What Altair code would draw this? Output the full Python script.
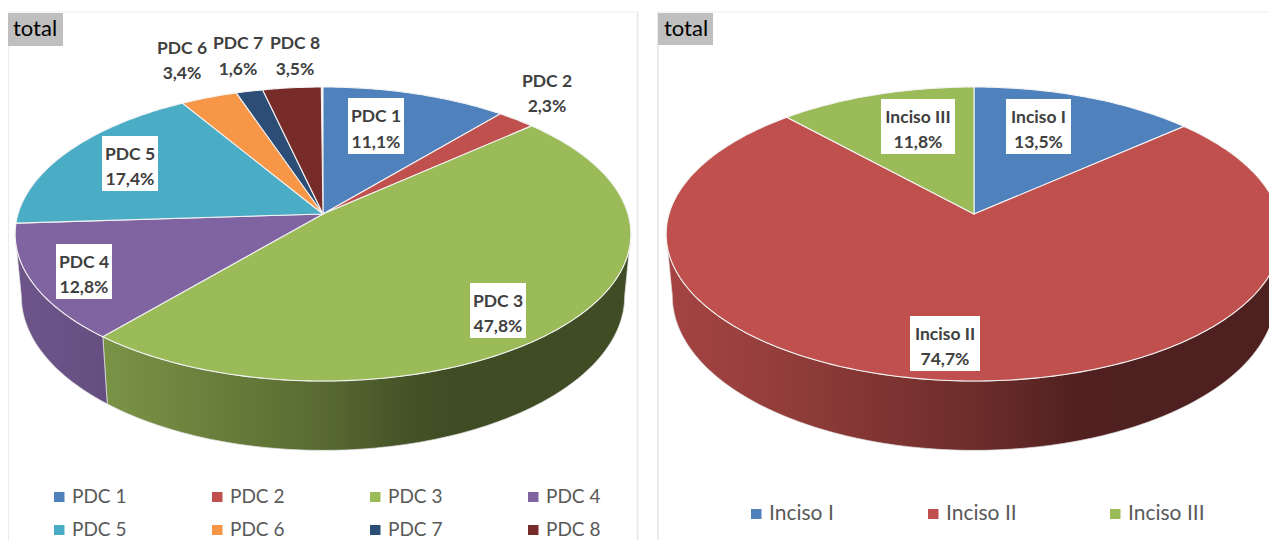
import math
import altair as alt

# ---- values ----
pdc_names = ["PDC 1", "PDC 2", "PDC 3", "PDC 4", "PDC 5", "PDC 6", "PDC 7", "PDC 8"]
pdc_shares = [11.1, 2.3, 47.8, 12.8, 17.4, 3.4, 1.6, 3.5]
pdc_colors = ["#4f81bd", "#c0504d", "#9bbb59", "#8064a2", "#4bacc6", "#f79646", "#2c4d75", "#772c2a"]
inc_names = ["Inciso I", "Inciso II", "Inciso III"]
inc_shares = [13.5, 74.7, 11.8]
inc_colors = ["#4f81bd", "#c0504d", "#9bbb59"]

# label centres and white boxes (image pixels)
pdc_label_x = [376, 547, 498, 84, 130, 182, 238, 295]
pdc_line1_y = [115, 80, 300, 261, 153, 47, 42, 42]
pdc_line2_y = [141, 105, 325, 286, 178, 72, 68, 68]
pdc_box_w = [56, 0, 56, 56, 56, 0, 0, 0]
inc_label_x = [1038.5, 945, 918]
inc_line1_y = [116, 333, 116]
inc_line2_y = [141, 358, 141]
inc_box_w = [65, 70, 74]

pdc_legend_sq_x = [54, 212, 370, 528, 54, 212, 370, 528]
pdc_legend_y = [497, 497, 497, 497, 530, 530, 530, 530]
inc_legend_sq_x = [751, 928, 1110]
inc_legend_y = [514, 514, 514]

# ---- pie geometry: a disc seen in perspective ----
W, H = 1261, 532
OFF = 8
HUB_Y = 214
K = 0.136
RX, RY = 305.0, 144.3
LOW_SX, LOW_SY, LOW_DY = 0.98, 1.05, 61.0
TANGENT = math.degrees(math.acos(-K))  # angle of the widest point on the right


def top_pt(cx, deg):
    a = math.radians(deg)
    w = 1 + K * math.cos(a)
    return cx + RX * math.sin(a) / w, HUB_Y - RY * math.cos(a) / w


def low_pt(cx, deg):
    x, y = top_pt(cx, deg)
    return cx + LOW_SX * (x - cx), HUB_Y + LOW_DY + LOW_SY * (y - HUB_Y)


def arc_degs(a, b):
    n = max(2, int((b - a) / 1.0))
    return [a + (b - a) * i / n for i in range(n + 1)]


def feature(ring):
    ring = [[round(x, 2), round(y, 2)] for x, y in ring]
    ring.append(ring[0])
    return {"type": "Feature", "properties": {}, "geometry": {"type": "Polygon", "coordinates": [ring]}}


def hexmul(col, f):
    r, g, b = int(col[1:3], 16), int(col[3:5], 16), int(col[5:7], 16)
    return "#%02x%02x%02x" % (int(r * f), int(g * f), int(b * f))


SHADE = [(0.0, 0.86), (0.15, 0.79), (0.5, 0.57), (0.68, 0.41), (1.0, 0.41)]


def shade(t):
    t = min(1, max(0, t))
    for (t0, f0), (t1, f1) in zip(SHADE, SHADE[1:]):
        if t <= t1:
            return f0 + (f1 - f0) * (t - t0) / (t1 - t0)
    return SHADE[-1][1]


PROJ = dict(type="identity", scale=1, translate=[-OFF, -OFF])


def pie_layers(cx, shares, colors):
    walls, tops = [], []
    start = 0.0
    for share, col in zip(shares, colors):
        end = start + share * 3.6
        # front wall
        a, b = max(start, TANGENT), min(end, 360 - TANGENT)
        if b > a:
            degs = arc_degs(a, b)
            ring = [top_pt(cx, d) for d in degs] + [low_pt(cx, d) for d in reversed(degs)]
            xs = [p[0] for p in ring]
            x0, x1 = min(xs), max(xs)
            offsets = [i / 12 for i in range(13)]
            stops = [
                alt.GradientStop(
                    offset=o,
                    color=hexmul(col, shade((x0 + (x1 - x0) * o - (cx - 308)) / 616)),
                )
                for o in offsets
            ]
            grad = alt.LinearGradient(gradient="linear", stops=stops, x1=0, x2=1, y1=0, y2=0)
            walls.append(
                alt.Chart(alt.Data(values=[feature(ring)]))
                .mark_geoshape(fill=grad, stroke="#e4e4e4", strokeWidth=0.7)
                .project(**PROJ)
            )
        # top surface
        ring = [(cx, HUB_Y)] + [top_pt(cx, d) for d in arc_degs(start, end)]
        tops.append(
            alt.Chart(alt.Data(values=[feature(ring)]))
            .mark_geoshape(fill=col, stroke="#f3f3f3", strokeWidth=1.1)
            .project(**PROJ)
        )
        start = end
    return walls + tops


x_enc = dict(scale=alt.Scale(domain=[OFF, OFF + W], range=[0, W]), axis=None)
y_enc = dict(scale=alt.Scale(domain=[OFF, OFF + H], range=[0, H]), axis=None)


def X(f):
    return alt.X(f, type="quantitative", **x_enc)


def Y(f):
    return alt.Y(f, type="quantitative", **y_enc)


# panel frames
frame_v = [
    {"x": 8, "y": 12, "y2": 540},
    {"x": 637.5, "y": 12, "y2": 540},
    {"x": 658, "y": 12, "y2": 540},
]
frame_h = [{"x": 8, "x2": 638, "y": 12}, {"x": 658, "x2": 1269, "y": 12}]
frames = (
    alt.Chart(alt.Data(values=frame_v))
    .mark_rule(color="#e6e6e6", strokeWidth=1.6)
    .encode(x=X("x"), y=Y("y"), y2="y2")
) + (
    alt.Chart(alt.Data(values=frame_h))
    .mark_rule(color="#efefef", strokeWidth=1)
    .encode(x=X("x"), x2="x2", y=Y("y"))
)

# "total" tags
tag_rows = [{"x": 8, "x2": 63, "y": 13, "y2": 46, "tx": 13, "ty": 29},
            {"x": 658, "x2": 713, "y": 13, "y2": 45, "tx": 664, "ty": 29}]
tag_box = alt.Chart(alt.Data(values=tag_rows)).mark_rect(color="#bfbfbf").encode(
    x=X("x"), x2="x2", y=Y("y"), y2="y2"
)
tag_txt = alt.Chart(alt.Data(values=tag_rows)).mark_text(
    text="total", font="Lato", fontSize=22, color="#000000", align="left", baseline="middle"
).encode(x=X("tx"), y=Y("ty"))

# data labels
label_rows = []
for names, shares, lx, l1, l2, bw in [
    (pdc_names, pdc_shares, pdc_label_x, pdc_line1_y, pdc_line2_y, pdc_box_w),
    (inc_names, inc_shares, inc_label_x, inc_line1_y, inc_line2_y, inc_box_w),
]:
    for n, s, x, a, b, w in zip(names, shares, lx, l1, l2, bw):
        label_rows.append({"name": n, "pct": f"{s:.1f}%".replace(".", ","), "x": x,
                           "y1": a + 1.5, "y2": b + 1.5, "bx": x - w / 2, "bx2": x + w / 2,
                           "by": a - 17, "by2": b + 13, "w": w})

label_box = alt.Chart(alt.Data(values=[r for r in label_rows if r["w"] > 0])).mark_rect(color="#ffffff").encode(
    x=X("bx"), x2="bx2", y=Y("by"), y2="by2"
)
lab_style = dict(font="Lato", fontSize=17.5, fontWeight="bold", color="#404040", align="center", baseline="middle")
label_a = alt.Chart(alt.Data(values=label_rows)).mark_text(**lab_style).encode(x=X("x"), y=Y("y1"), text="name:N")
label_b = alt.Chart(alt.Data(values=label_rows)).mark_text(**lab_style).encode(x=X("x"), y=Y("y2"), text="pct:N")

# legends
legend_rows = []
for names, cols, xs, ys in [
    (pdc_names, pdc_colors, pdc_legend_sq_x, pdc_legend_y),
    (inc_names, inc_colors, inc_legend_sq_x, inc_legend_y),
]:
    for n, c, x, y in zip(names, cols, xs, ys):
        legend_rows.append({"name": n, "col": c, "x": x, "x2": x + 10.5, "y": y - 5, "y2": y + 5,
                            "tx": x + 18, "ty": y})
legend_sq = alt.Chart(alt.Data(values=legend_rows)).mark_rect().encode(
    x=X("x"), x2="x2", y=Y("y"), y2="y2", color=alt.Color("col:N", scale=None)
)
legend_pdc = alt.Chart(alt.Data(values=legend_rows[:8])).mark_text(
    font="Lato", fontSize=19, color="#595959", align="left", baseline="middle"
).encode(x=X("tx"), y=Y("ty"), text="name:N")
legend_inc = alt.Chart(alt.Data(values=legend_rows[8:])).mark_text(
    font="Lato", fontSize=21, color="#595959", align="left", baseline="middle"
).encode(x=X("tx"), y=Y("ty"), text="name:N")

layers = [frames]
layers += pie_layers(323, pdc_shares, pdc_colors)
layers += pie_layers(974, inc_shares, inc_colors)
layers += [tag_box, tag_txt, label_box, label_a, label_b, legend_sq, legend_pdc, legend_inc]

chart = (
    alt.layer(*layers)
    .properties(width=W, height=H, padding=0, autosize=alt.AutoSizeParams(type="none"))
    .configure_view(stroke=None)
)
chart.save("out.html", embed_options={"renderer": "svg", "actions": False})
